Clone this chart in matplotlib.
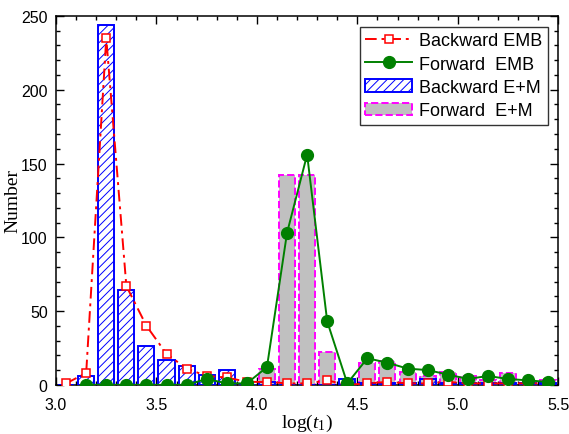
import matplotlib
matplotlib.use("Agg")
import matplotlib.pyplot as plt
from matplotlib.ticker import MultipleLocator, FormatStrFormatter

# bin centres of log(t1)
bins = [3.05, 3.15, 3.25, 3.35, 3.45, 3.55, 3.65, 3.75, 3.85, 3.95,
        4.05, 4.15, 4.25, 4.35, 4.45, 4.55, 4.65, 4.75, 4.85, 4.95,
        5.05, 5.15, 5.25, 5.35, 5.45]

backward_em = [0, 6, 244, 64, 26, 17, 13, 7, 10, 0,
               2, 0, 0, 0, 4, 1, 1, 1, 4, 1,
               1, 1, 1, 1, 1]
forward_em = [0, 0, 0, 0, 0, 0, 0, 0, 0, 0,
              11, 142, 142, 22, 0, 15, 16, 9, 6, 9,
              6, 3, 8, 1, 3]

backward_emb = [1, 8, 235, 67, 40, 21, 11, 6, 5, 2,
                2, 1, 1, 3, 0, 1, 2, 1, 1, 2,
                1, 1, 1, 1, 1]
fwd_x = bins[1:]
forward_emb = [0, 0, 0, 0, 0, 0, 4, 1, 1,
               12, 103, 156, 43, 1, 18, 15, 11, 10, 7,
               4, 6, 4, 3, 2]

plt.rcParams['font.family'] = ['Liberation Sans', 'DejaVu Sans']
plt.rcParams['hatch.color'] = 'blue'
plt.rcParams['hatch.linewidth'] = 0.7
plt.rcParams['mathtext.fontset'] = 'custom'
plt.rcParams['mathtext.it'] = 'Liberation Serif:italic'
plt.rcParams['mathtext.rm'] = 'Liberation Serif'

fig = plt.figure(figsize=(5.69, 4.35), dpi=100)
ax = fig.add_axes([0.0985, 0.113, 0.8825, 0.848])

ax.bar(bins, forward_em, width=0.08, color='#c0c0c0', edgecolor='magenta',
       linestyle='--', linewidth=1.4, label='Forward  E+M', zorder=2)
ax.bar(bins, backward_em, width=0.08, facecolor='none', edgecolor='blue',
       hatch='////', linewidth=1.4, label='Backward E+M', zorder=3)
ax.plot(bins, backward_emb, color='red', linestyle=(0, (6, 2.5, 1.5, 2.5)), linewidth=1.4,
        marker='s', markersize=6, markerfacecolor='white', markeredgecolor='red',
        markeredgewidth=1.1, label='Backward EMB', zorder=4)
ax.plot(fwd_x, forward_emb, color='green', linestyle='-', linewidth=1.4,
        marker='o', markersize=8.5, markerfacecolor='green', markeredgecolor='green',
        label='Forward  EMB', zorder=5)

ax.set_xlim(3.0, 5.5)
ax.set_ylim(0, 250)
ax.xaxis.set_major_locator(MultipleLocator(0.5))
ax.xaxis.set_minor_locator(MultipleLocator(0.1))
ax.yaxis.set_major_locator(MultipleLocator(50))
ax.yaxis.set_minor_locator(MultipleLocator(10))
ax.xaxis.set_major_formatter(FormatStrFormatter('%.1f'))
ax.tick_params(which='both', direction='in', top=True, right=True, labelsize=11.5)
ax.tick_params(which='major', length=6, width=1)
ax.tick_params(which='minor', length=3, width=1)
ax.tick_params(axis='x', which='major', pad=9)
ax.tick_params(axis='y', which='major', pad=6)
for s in ax.spines.values():
    s.set_linewidth(1.1)

ax.set_xlabel(r'log($\mathit{t}_1$)', family='Liberation Serif', fontsize=14, labelpad=0)
ax.set_ylabel('Number', family='Liberation Serif', fontsize=14, labelpad=0)

h, l = ax.get_legend_handles_labels()
order = ['Backward EMB', 'Forward  EMB', 'Backward E+M', 'Forward  E+M']
hd = dict(zip(l, h))
leg = ax.legend([hd[k] for k in order], order, loc='upper right',
                bbox_to_anchor=(0.98, 0.97), borderaxespad=0, fontsize=13,
                frameon=True, fancybox=False, edgecolor='black', handlelength=2.6,
                handletextpad=0.4, borderpad=0.3, labelspacing=0.35)
leg.get_frame().set_linewidth(1.0)

fig.savefig('out.png', dpi=100)
